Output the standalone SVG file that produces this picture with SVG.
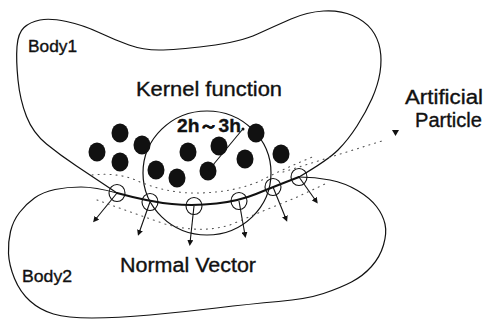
<svg xmlns="http://www.w3.org/2000/svg" width="485" height="321" viewBox="0 0 485 321">
  <style>
    .outline { fill: none; stroke: #111; stroke-width: 1.2; stroke-linecap: round; stroke-linejoin: round; }
    .iface { fill: none; stroke: #111; stroke-width: 2; stroke-linecap: round; }
    .dot { fill: #111; }
    .ap { fill: none; stroke: #111; stroke-width: 1.1; }
    .vec { stroke: #111; stroke-width: 1.1; fill: none; }
    .dotted { fill: none; stroke: #555; stroke-width: 1.1; stroke-dasharray: 1 5; stroke-linecap: round; }
    .lbl { font-family: "Liberation Sans", Arial, sans-serif; fill: #111; stroke: #111; stroke-width: 0.35; }
  </style>
  <defs>
    <marker id="head" viewBox="0 0 6 6" refX="3" refY="3" markerWidth="6" markerHeight="6" markerUnits="userSpaceOnUse" orient="auto">
      <path d="M0,0 L6,3 L0,6 Z" fill="#111"/>
    </marker>
  </defs>
  <rect width="485" height="321" fill="#fff"/>

  <g id="body1">
    <path class="outline" d="M117,193 Q93,177 76.5,166 Q60,155 46.5,144 Q33,133 26.5,116.5 Q20,100 18,80 Q16,60 17,46.5 Q18,33 24,27.5 Q30,22 40,20 Q50,18 66.5,21.5 Q83,25 99,32.5 Q115,40 129,45 Q143,50 159,50 Q175,50 207.5,46 Q240,42 257.5,34 Q275,26 291,19 Q307,12 323.5,11 Q340,10 352.5,15.5 Q365,21 371.5,29.5 Q378,38 380,49 Q382,60 380,72.5 Q378,85 372,98.5 Q366,112 357,126 Q348,140 338,150 Q328,160 299,177"/>
    <text class="lbl" x="28" y="52" font-size="17" textLength="49" lengthAdjust="spacingAndGlyphs">Body1</text>
  </g>

  <g id="body2">
    <path class="outline" d="M117,193 Q95,187 81,187 Q67,187 55,189.5 Q43,192 34.5,198 Q26,204 19.5,212.5 Q13,221 10.5,231.5 Q8,242 8.5,253.5 Q9,265 14.5,278.5 Q20,292 30,301 Q40,310 53.5,314 Q67,318 92,318 Q117,318 150,315 Q183,312 216.5,308 Q250,304 278.5,301.5 Q307,299 323.5,293.5 Q340,288 351.5,282 Q363,276 371.5,266.5 Q380,257 383.5,245 Q387,233 385,224 Q383,215 376.5,206.5 Q370,198 357.5,190.5 Q345,183 330,180 Q315,177 299,177"/>
    <text class="lbl" x="22" y="282" font-size="17" textLength="50" lengthAdjust="spacingAndGlyphs">Body2</text>
  </g>

  <g id="interface">
    <path class="iface" d="M117,193 Q150,202 172,204 Q194,206 216.5,203.5 Q239,201 256,194 Q273,187 299,177"/>
  </g>

  <g id="kernel">
    <ellipse class="outline" cx="207" cy="173" rx="64" ry="62"/>
    <text class="lbl" x="136" y="96" font-size="20" textLength="146" lengthAdjust="spacingAndGlyphs">Kernel function</text>
  </g>

  <g id="particles">
    <ellipse class="dot" cx="120" cy="133" rx="8.5" ry="9.5"/>
    <ellipse class="dot" cx="97" cy="152" rx="8.5" ry="9.5"/>
    <ellipse class="dot" cx="120" cy="162" rx="8.5" ry="9.5"/>
    <ellipse class="dot" cx="142" cy="145" rx="8.5" ry="9.5"/>
    <ellipse class="dot" cx="156" cy="170" rx="8.5" ry="9.5"/>
    <ellipse class="dot" cx="177" cy="178" rx="8.5" ry="9.5"/>
    <ellipse class="dot" cx="188" cy="152" rx="8.5" ry="9.5"/>
    <ellipse class="dot" cx="219" cy="146" rx="8.5" ry="9.5"/>
    <ellipse class="dot" cx="208" cy="171" rx="8.5" ry="9.5"/>
    <ellipse class="dot" cx="245" cy="159" rx="8.5" ry="9.5"/>
    <ellipse class="dot" cx="256" cy="133" rx="8.5" ry="9.5"/>
    <ellipse class="dot" cx="281" cy="154" rx="8.5" ry="9.5"/>
  </g>

  <g id="artificial-particles">
    <ellipse class="ap" cx="117" cy="193" rx="8" ry="8.5"/>
    <ellipse class="ap" cx="150" cy="202" rx="8" ry="8.5"/>
    <ellipse class="ap" cx="194" cy="206" rx="8" ry="8.5"/>
    <ellipse class="ap" cx="239" cy="201" rx="8" ry="8.5"/>
    <ellipse class="ap" cx="273" cy="187" rx="8" ry="8.5"/>
    <ellipse class="ap" cx="299" cy="177" rx="8" ry="8.5"/>
  </g>

  <g id="labels">
    <text class="lbl" x="177" y="132" font-size="19" font-weight="bold" textLength="64" lengthAdjust="spacingAndGlyphs">2h～3h</text>
    <text class="lbl" x="405" y="104" font-size="20" textLength="78" lengthAdjust="spacingAndGlyphs">Artificial</text>
    <text class="lbl" x="415" y="127" font-size="20" textLength="67" lengthAdjust="spacingAndGlyphs">Particle</text>
    <text class="lbl" x="120" y="272" font-size="20" textLength="136" lengthAdjust="spacingAndGlyphs">Normal Vector</text>
  </g>

  <g id="connectors">
    <line class="vec" x1="208" y1="171" x2="242" y2="130"/>
    <circle class="dot" cx="243" cy="129" r="1.5"/>
    <line class="vec" x1="117" y1="193" x2="95" y2="220" marker-end="url(#head)"/>
    <line class="vec" x1="150" y1="202" x2="139" y2="233" marker-end="url(#head)"/>
    <line class="vec" x1="194" y1="206" x2="190" y2="243" marker-end="url(#head)"/>
    <line class="vec" x1="239" y1="201" x2="245" y2="235" marker-end="url(#head)"/>
    <line class="vec" x1="273" y1="187" x2="286" y2="219" marker-end="url(#head)"/>
    <line class="vec" x1="299" y1="177" x2="316" y2="201" marker-end="url(#head)"/>
    <path class="dotted" d="M92,175 Q120,172 140,182 Q170,194 200,193 Q235,192 260,181 Q285,168 315,156"/>
    <path class="dotted" d="M97,200 Q130,212 165,224 Q200,234 230,225 Q265,210 295,198 L325,184"/>
    <path class="dotted" d="M283,172 L385,140"/>
    <path d="M392,130 L399,130 L395.5,136 Z" fill="#111"/>
  </g>
</svg>
